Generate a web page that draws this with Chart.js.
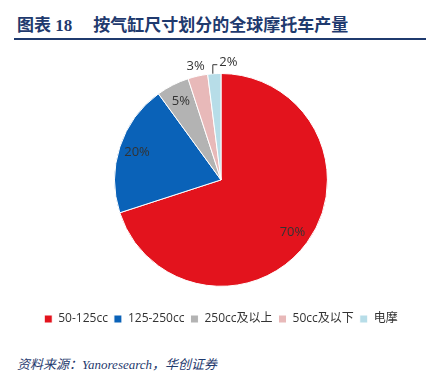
<!DOCTYPE html>
<html>
<head>
<meta charset="utf-8">
<script src="https://cdn.jsdelivr.net/npm/chart.js@4/dist/chart.umd.min.js"></script>
<style>
  body { margin: 0; width: 438px; height: 374px; background: #fff; position: relative; overflow: hidden; }
  #title {
    position: absolute; left: 17px; top: 11px;
    font-family: 'Liberation Serif', 'Noto Sans CJK SC', serif; font-weight: bold;
    font-size: 17px; color: #1f3a6e; white-space: nowrap;
  }
  #title .cn { font-family: 'Noto Sans CJK SC', sans-serif; }
  #title .main { margin-left: 21px; }
  #rule { position: absolute; left: 14px; top: 38px; width: 412px; height: 2px; background: #1f3a6e; }
  #wrap { position: absolute; left: 0; top: 45px; width: 438px; height: 290px; }
  #source {
    position: absolute; left: 17px; top: 354px;
    font-family: 'Liberation Serif', 'Noto Sans CJK SC', serif; font-style: italic;
    font-size: 13px; color: #1f3a6e; white-space: nowrap;
  }
</style>
</head>
<body>
<div id="title"><span class="cn">图表</span> 18<span class="cn main">按气缸尺寸划分的全球摩托车产量</span></div>
<div id="rule"></div>
<div id="wrap"><canvas id="pie"></canvas></div>
<div id="source">资料来源：Yanoresearch，华创证券</div>
<script>
const categories = ['50-125cc', '125-250cc', '250cc及以上', '50cc及以下', '电摩'];
const shares = [70, 20, 5, 3, 2];
const colors = ['#e3131d', '#0a62b8', '#b3b3b3', '#e8b9b9', '#b7dde8'];

// percentage labels: inside for big slices, outside for small ones
const sliceLabels = {
  id: 'sliceLabels',
  afterDatasetsDraw(chart) {
    const ctx = chart.ctx;
    const arcs = chart.getDatasetMeta(0).data;
    ctx.save();
    ctx.font = "13px 'Open Sans', 'Noto Sans', sans-serif";
    ctx.fillStyle = '#333';
    ctx.textBaseline = 'middle';
    arcs.forEach((arc, i) => {
      const mid = (arc.startAngle + arc.endAngle) / 2;
      const R = arc.outerRadius;
      const text = shares[i] + '%';
      if (shares[i] >= 5) {
        ctx.textAlign = 'center';
        ctx.fillText(text, arc.x + Math.cos(mid) * R * 0.83, arc.y + Math.sin(mid) * R * 0.83);
      } else if (i === shares.length - 1) {
        // leader line for the smallest slice
        const x0 = arc.x + Math.cos(mid) * R;
        const y0 = arc.y + Math.sin(mid) * R;
        ctx.strokeStyle = '#333';
        ctx.lineWidth = 1;
        ctx.beginPath();
        ctx.moveTo(x0 - 1.5, y0);
        ctx.lineTo(x0 - 1.5, y0 - 9);
        ctx.lineTo(x0 + 3, y0 - 9);
        ctx.stroke();
        ctx.textAlign = 'left';
        ctx.fillText(text, x0 + 5, y0 - 11);
      } else {
        ctx.textAlign = 'center';
        ctx.fillText(text, arc.x + Math.cos(mid) * R * 1.09, arc.y + Math.sin(mid) * R * 1.09);
      }
    });
    ctx.restore();
  }
};

new Chart(document.getElementById('pie'), {
  type: 'pie',
  data: {
    labels: categories,
    datasets: [{
      data: shares,
      backgroundColor: colors,
      borderColor: '#fff',
      borderWidth: 1,
    }],
  },
  options: {
    responsive: true,
    maintainAspectRatio: false,
    animation: false,
    layout: { padding: { top: 28, bottom: 0, left: 4 } },
    plugins: {
      legend: {
        position: 'bottom',
        title: { display: true, text: '', font: { size: 1 }, padding: { top: 19, bottom: 0 } },
        labels: {
          boxWidth: 8, boxHeight: 8, padding: 6,
          color: '#333',
          font: { family: "'Open Sans', 'Noto Sans CJK SC', sans-serif", size: 12 },
        },
      },
      tooltip: { enabled: false },
    },
  },
  plugins: [sliceLabels],
});
</script>
</body>
</html>
